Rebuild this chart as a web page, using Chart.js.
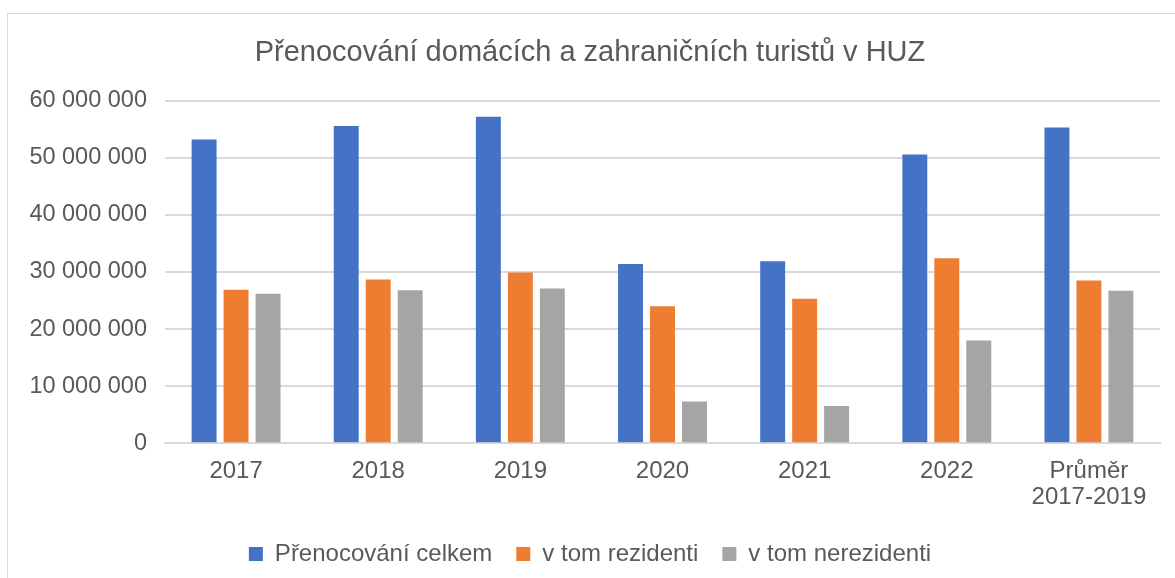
<!DOCTYPE html>
<html>
<head>
<meta charset="utf-8">
<script src="https://cdn.jsdelivr.net/npm/chart.js@4"></script>
<style>
  html, body { margin: 0; padding: 0; background: #fff; }
  #wrap { position: relative; width: 1175px; height: 578px; }
  #frame { position: absolute; left: 7px; top: 13px; width: 1200px; height: 600px; border: 1px solid #d9d9d9; box-sizing: border-box; }
  canvas { position: absolute; left: 0; top: 0; }
</style>
</head>
<body>
<div id="wrap">
  <div id="frame"></div>
  <canvas id="barChart" width="1175" height="578"></canvas>
</div>
<script>
const categories = ['2017', '2018', '2019', '2020', '2021', '2022', ['Průměr', '2017-2019']];
const celkem = [53200000, 55600000, 57200000, 31400000, 31900000, 50600000, 55300000];
const rezidenti = [26900000, 28700000, 29900000, 24000000, 25300000, 32400000, 28500000];
const nerezidenti = [26200000, 26800000, 27100000, 7300000, 6500000, 18000000, 26700000];
const yTicks = [0, 10000000, 20000000, 30000000, 40000000, 50000000, 60000000];

const grey = '#595959';
const font = 'Liberation Sans, Arial, sans-serif';

function fmt(v) {
    return String(v).replace(/\B(?=(\d{3})+(?!\d))/g, ' ');
}

const ctx = document.getElementById('barChart');

const graph = {
    type: 'bar',
    data: {
        labels: categories,
        datasets: [
            { label: 'Přenocování celkem', data: celkem, backgroundColor: '#4472c4' },
            { label: 'v tom rezidenti', data: rezidenti, backgroundColor: '#ed7d31' },
            { label: 'v tom nerezidenti', data: nerezidenti, backgroundColor: '#a5a5a5' }
        ]
    },
    options: {
        responsive: false,
        animation: false,
        layout: { padding: { left: 20, right: 15, top: 36, bottom: 2 } },
        datasets: { bar: { categoryPercentage: 0.675, barPercentage: 0.78 } },
        plugins: {
            title: {
                display: true,
                text: 'Přenocování domácích a zahraničních turistů v HUZ',
                color: grey,
                font: { family: font, size: 29, weight: 'normal' },
                padding: { top: 0, bottom: 30 }
            },
            legend: {
                position: 'bottom',
                labels: {
                    color: grey,
                    font: { family: font, size: 24 },
                    boxWidth: 14,
                    boxHeight: 14,
                    padding: 24
                }
            },
            tooltip: { enabled: false }
        },
        scales: {
            x: {
                grid: { display: false },
                border: { color: '#d9d9d9', width: 2 },
                ticks: { color: grey, font: { family: font, size: 24, lineHeight: 1.1 }, maxRotation: 0, padding: 7 }
            },
            y: {
                min: 0,
                max: 60000000,
                afterBuildTicks: axis => { axis.ticks = yTicks.map(v => ({ value: v })); },
                afterFit: scale => { scale.width = 145; },
                grid: { color: '#d9d9d9', lineWidth: 2, drawTicks: false },
                border: { display: false },
                ticks: { color: grey, font: { family: font, size: 23.5 }, padding: 18, callback: v => fmt(v) }
            }
        }
    }
};

window.chart = new Chart(ctx, graph);
</script>
</body>
</html>
